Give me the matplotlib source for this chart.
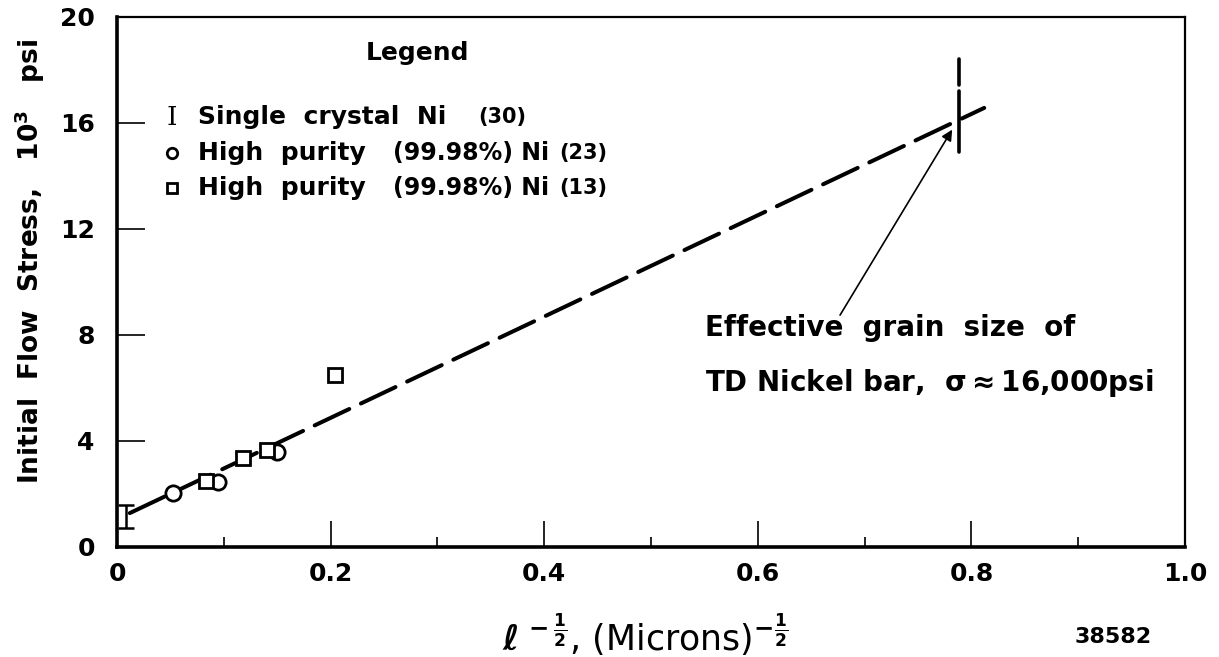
import matplotlib
matplotlib.use("Agg")
import matplotlib.pyplot as plt
from matplotlib.ticker import FixedLocator, FuncFormatter

# ---- data ----
single_x = [0.008]
single_y = [1.15]
single_err = [0.45]

hp23_x = [0.052, 0.095, 0.150]
hp23_y = [2.04, 2.45, 3.58]

hp13_x = [0.083, 0.118, 0.140, 0.204]
hp13_y = [2.49, 3.36, 3.66, 6.49]

fit_x = [0.012, 0.812]
fit_y = [1.28, 16.57]

td_x = 0.788
td_seg_lo = [14.9, 17.2]
td_seg_hi = [17.45, 18.4]

arrow_tip = (0.782, 15.75)
arrow_tail = (0.677, 8.75)

xticks_major = [0, 0.2, 0.4, 0.6, 0.8, 1.0]
xtick_labels = ["0", "0.2", "0.4", "0.6", "0.8", "1.0"]
xticks_minor = [0.1, 0.3, 0.5, 0.7, 0.9]
yticks_major = [0, 4, 8, 12, 16, 20]

plt.rcParams['font.family'] = ['DejaVu Sans']
plt.rcParams['font.weight'] = 'bold'
plt.rcParams['axes.labelweight'] = 'bold'
plt.rcParams['mathtext.fontset'] = 'dejavusans'
plt.rcParams['mathtext.default'] = 'bf'

fig = plt.figure(figsize=(12.19, 6.57), dpi=100)
ax = fig.add_axes([117/1219, 1-547/657, 1068/1219, 530/657])
ax.set_xlim(0, 1.0)
ax.set_ylim(0, 20)

# fit line (long dashes)
ln, = ax.plot(fit_x, fit_y, color='black', lw=2.9, solid_capstyle='round',
              dash_capstyle='round')
ln.set_dashes([9.5, 3.2])

# TD nickel cross (vertical dashed bar)
ax.plot([td_x, td_x], td_seg_lo, color='black', lw=2.6, solid_capstyle='round')
ax.plot([td_x, td_x], td_seg_hi, color='black', lw=2.6, solid_capstyle='round')

# single crystal error bar
ax.errorbar(single_x, single_y, yerr=single_err, fmt='none', ecolor='black',
            elinewidth=1.8, capsize=5.5, capthick=1.8)

# high purity circles and squares
ax.plot(hp23_x, hp23_y, linestyle='none', marker='o', ms=11, mfc='white',
        mec='black', mew=2.0)
ax.plot(hp13_x, hp13_y, linestyle='none', marker='s', ms=10.5, mfc='white',
        mec='black', mew=2.0)

# arrow + annotation
ax.annotate('', xy=arrow_tip, xytext=arrow_tail,
            arrowprops=dict(arrowstyle='-|>', lw=1.2, color='black',
                            mutation_scale=16, shrinkA=0, shrinkB=0))
ax.text(0.551, 8.26, 'Effective  grain  size  of', fontsize=20, va='center',
        ha='left')
ax.text(0.551, 6.19, r'TD Nickel bar,  $\sigma\approx$16,000psi', fontsize=20,
        va='center', ha='left')

# legend (manual)
ax.text(0.281, 0.932, 'Legend', transform=ax.transAxes, fontsize=18,
        ha='center', va='center')
ax.text(0.0515, 0.811, 'I', transform=ax.transAxes, fontsize=19,
        family='DejaVu Serif', fontweight='normal', ha='center', va='center')
ax.plot([0.0515], [0.743], transform=ax.transAxes, marker='o', ms=7.5,
        mfc='white', mec='black', mew=2.0, linestyle='none', clip_on=False)
ax.plot([0.0515], [0.677], transform=ax.transAxes, marker='s', ms=7,
        mfc='white', mec='black', mew=2.0, linestyle='none', clip_on=False)
ax.text(0.076, 0.811, 'Single  crystal  Ni', transform=ax.transAxes,
        fontsize=18, ha='left', va='center')
ax.text(0.338, 0.811, '(30)', transform=ax.transAxes, fontsize=15,
        ha='left', va='center')
ax.text(0.076, 0.743, 'High  purity', transform=ax.transAxes, fontsize=18,
        ha='left', va='center')
ax.text(0.076, 0.677, 'High  purity', transform=ax.transAxes, fontsize=18,
        ha='left', va='center')
for yy, lab in [(0.743, '(23)'), (0.677, '(13)')]:
    ax.text(0.258, yy, '(99.98%) Ni', transform=ax.transAxes, fontsize=17,
            ha='left', va='center')
    ax.text(0.414, yy, lab, transform=ax.transAxes, fontsize=15,
            ha='left', va='center')

# axes styling
for s in ['left', 'bottom']:
    ax.spines[s].set_linewidth(2.6)
for s in ['top', 'right']:
    ax.spines[s].set_linewidth(1.6)

ax.xaxis.set_major_locator(FixedLocator(xticks_major))
ax.xaxis.set_minor_locator(FixedLocator(xticks_minor))
ax.xaxis.set_major_formatter(FuncFormatter(
    lambda v, p: xtick_labels[xticks_major.index(round(v, 1))]
    if round(v, 1) in xticks_major else ''))
ax.yaxis.set_major_locator(FixedLocator(yticks_major))
ax.tick_params(axis='x', which='major', direction='in', length=19, width=1.2,
               labelsize=18, pad=11)
ax.tick_params(axis='x', which='minor', direction='in', length=7, width=1.2)
ax.tick_params(axis='y', which='major', direction='in', length=20, width=1.2,
               labelsize=18, pad=16)
ax.tick_params(top=False, right=False)

ax.set_ylabel(r'Initial  Flow  Stress,   10$^3$   psi', fontsize=19,
              fontweight='bold', va='center')
ax.yaxis.set_label_coords(-0.0815, 0.54)
ax.set_xlabel(r'$\ell^{\,-\frac{1}{2}}$, (Microns)$^{-\frac{1}{2}}$', fontsize=25,
              fontweight='normal', va='center')
ax.xaxis.set_label_coords(0.494, -0.166)

fig.text(1113/1219, 1-637/657, '38582', fontsize=16, ha='center', va='center',
         fontweight='bold')

fig.savefig('out.png', dpi=100)
